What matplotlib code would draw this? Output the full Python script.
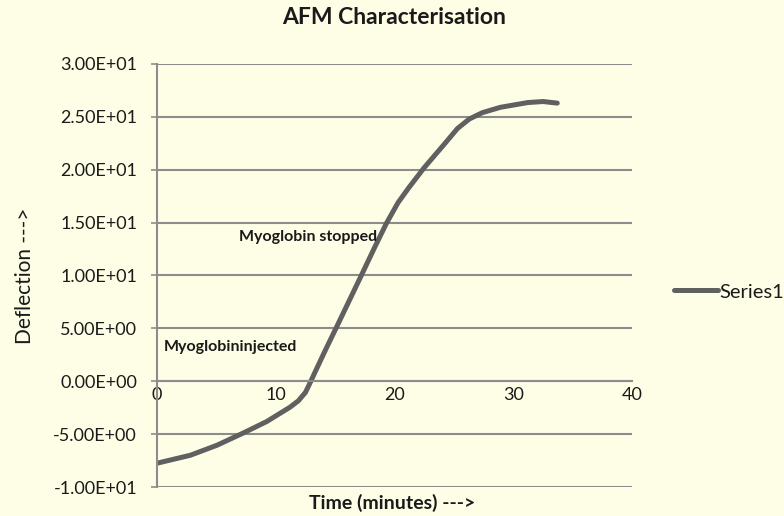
import matplotlib
matplotlib.use('Agg')
import matplotlib.pyplot as plt

plt.rcParams['font.family'] = ['Lato', 'DejaVu Sans']

# readings: time (minutes) vs deflection
time_min = [0, 2.8, 5.05, 7.25, 9.25, 11.2, 11.9, 12.5, 12.95, 13.3, 14.2, 15.15,
            17.2, 18.3, 19.3, 20.3, 21.2, 22.5, 24.1, 25.3, 26.3, 27.4, 28.9,
            31.2, 32.5, 33.7]
deflection = [-7.75, -7.0, -6.05, -4.9, -3.8, -2.45, -1.85, -1.05, 0.0, 0.85, 3.0, 5.2,
              10.0, 12.6, 14.9, 16.9, 18.3, 20.2, 22.3, 23.9, 24.8, 25.4, 25.9,
              26.35, 26.45, 26.3]
yticks = [-10, -5, 0, 5, 10, 15, 20, 25, 30]
ytick_labels = ['-1.00E+01', '-5.00E+00', '0.00E+00', '5.00E+00', '1.00E+01',
                '1.50E+01', '2.00E+01', '2.50E+01', '3.00E+01']
xticks = [0, 10, 20, 30, 40]

bg = '#fefee6'
grid_col = '#8c8c8c'
txt_col = '#1a1a1a'

fig = plt.figure(figsize=(7.84, 5.16), dpi=100, facecolor=bg)
ax = fig.add_axes([0.2003, 0.0562, 0.6059, 0.8198], facecolor=bg)

ax.plot(time_min, deflection, color='#606060', lw=3.6, solid_capstyle='round',
        solid_joinstyle='round', label='Series1')

for s in ['top', 'right']:
    ax.spines[s].set_visible(False)
ax.spines['left'].set_color(grid_col)
ax.spines['left'].set_linewidth(1.5)
# x axis crosses at y = 0 (set before tick labels, it resets the ticks)
ax.spines['bottom'].set_position(('data', 0))
ax.spines['bottom'].set_color(grid_col)
ax.spines['bottom'].set_linewidth(1.5)

ax.set_xlim(0, 40)
ax.set_ylim(-10, 30)
ax.set_yticks(yticks)
ax.set_yticklabels(ytick_labels, fontsize=13, color=txt_col)
ax.set_xticks(xticks)
ax.set_xticklabels([str(t) for t in xticks], fontsize=13, color=txt_col)

ax.yaxis.grid(True, color=grid_col, lw=1.5)
ax.set_axisbelow(True)
ax.tick_params(axis='y', length=4, width=1.2, color=grid_col, pad=10.4)
ax.tick_params(axis='x', length=0, pad=4)

fig.text(0.502, 1 - 17 / 516, 'AFM Characterisation', fontsize=16.5,
         fontweight='bold', ha='center', va='center', color=txt_col)
ax.set_xlabel('Time (minutes) --->', fontsize=14, fontweight='bold', va='center',
              color=txt_col)
ax.xaxis.set_label_coords(0.496, -16 / 423)
ax.set_ylabel('Deflection --->', fontsize=15, va='center', color=txt_col)
ax.yaxis.set_label_coords(-0.278, 0.5)

ax.text(6.9, 13.6, 'Myoglobin stopped', fontsize=11.5, fontweight='bold',
        color=txt_col, va='center')
ax.text(0.6, 3.2, 'Myoglobininjected', fontsize=11.5, fontweight='bold',
        color=txt_col, va='center')

leg = ax.legend(loc='center left', bbox_to_anchor=(1.05, 0.461), frameon=False,
                fontsize=14.5, handlelength=2.2, handletextpad=0.05)
for t in leg.get_texts():
    t.set_color(txt_col)

fig.savefig('out.png', dpi=100, facecolor=bg)
